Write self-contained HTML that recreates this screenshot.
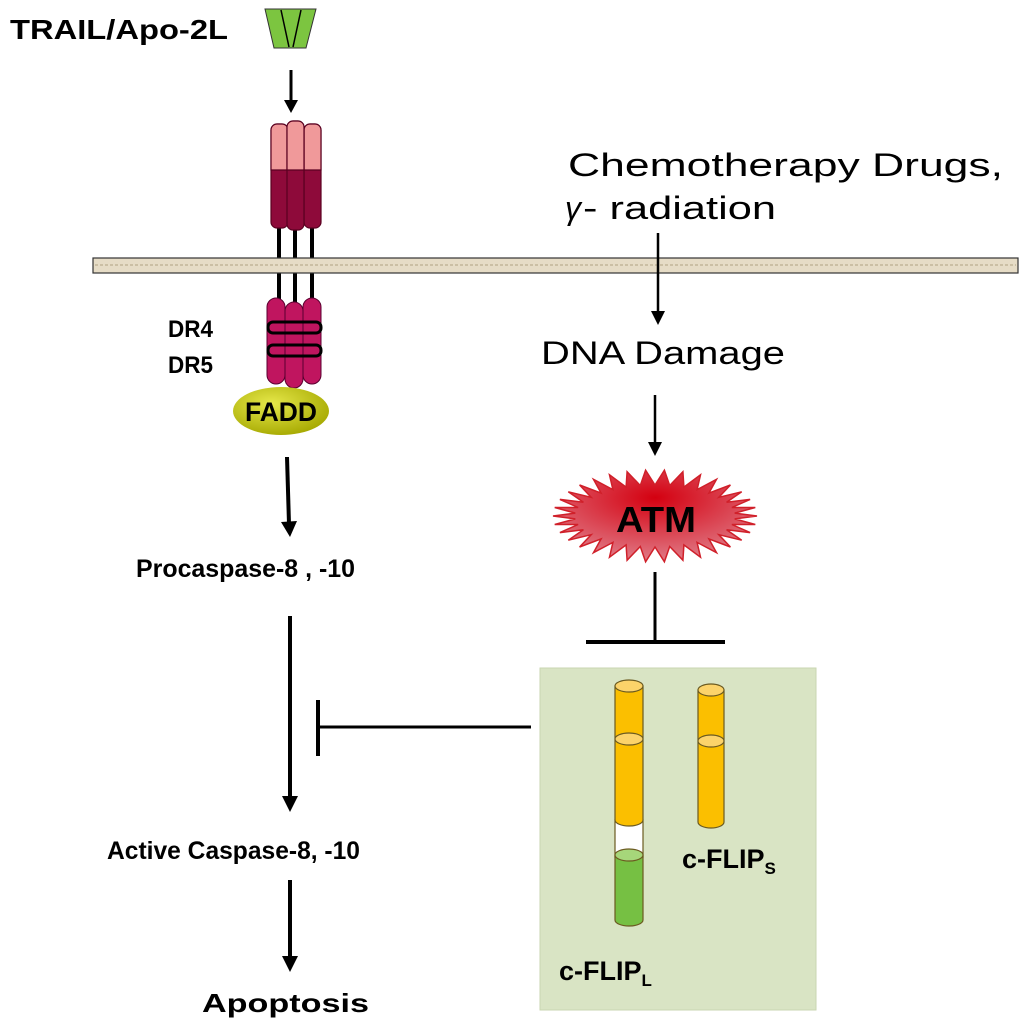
<!DOCTYPE html>
<html><head><meta charset="utf-8"><style>
html,body{margin:0;padding:0;background:#fff;}
svg{display:block;}
text{font-family:"Liberation Sans",Arial,sans-serif;fill:#000;}
</style></head><body>
<svg width="1024" height="1029" viewBox="0 0 1024 1029" xmlns="http://www.w3.org/2000/svg">
<defs>
<radialGradient id="atmg" cx="0.5" cy="0.3" r="0.7"><stop offset="0" stop-color="#d40010"/><stop offset="1" stop-color="#e07c88"/></radialGradient>
<radialGradient id="fadd" cx="0.4" cy="0.35" r="0.7"><stop offset="0" stop-color="#e6e84a"/><stop offset="1" stop-color="#a5a800"/></radialGradient>
</defs>

<!-- TRAIL -->
<text x="10" y="39" font-size="28" font-weight="bold" textLength="218" lengthAdjust="spacingAndGlyphs">TRAIL/Apo-2L</text>
<polygon points="265,9 316,9 306,48 274,48" fill="#7cc540" stroke="#333" stroke-width="1"/>
<line x1="281" y1="10" x2="289" y2="47" stroke="#000" stroke-width="1.5"/>
<line x1="301" y1="10" x2="293" y2="47" stroke="#000" stroke-width="1.5"/>
<line x1="291" y1="70" x2="291" y2="102" stroke="#000" stroke-width="3"/>
<polygon points="284,100 298,100 291,113" fill="#000"/>

<g stroke="#000" stroke-width="4">
<line x1="279" y1="225" x2="279" y2="305"/>
<line x1="295" y1="225" x2="295" y2="305"/>
<line x1="312" y1="225" x2="312" y2="305"/>
</g>
<g stroke="#5a0020" stroke-width="1.2">
<rect x="271" y="124" width="17" height="104" rx="6" fill="#8e0a3a"/>
<rect x="304" y="124" width="17" height="104" rx="6" fill="#8e0a3a"/>
<path d="M271,170 V130 a6,6 0 0 1 6,-6 h5 a6,6 0 0 1 6,6 V170 Z" fill="#f0999a"/>
<path d="M304,170 V130 a6,6 0 0 1 6,-6 h5 a6,6 0 0 1 6,6 V170 Z" fill="#f0999a"/>
<rect x="287" y="121" width="17" height="109" rx="6" fill="#8e0a3a"/>
<path d="M287,170 V127 a6,6 0 0 1 6,-6 h5 a6,6 0 0 1 6,6 V170 Z" fill="#f0999a"/>
</g>

<rect x="93" y="258" width="925" height="15" fill="#e6dcc6" stroke="#333" stroke-width="1.2"/>
<line x1="95" y1="265" x2="1016" y2="265" stroke="#cbbfa4" stroke-width="2" stroke-dasharray="3,2"/>

<g stroke="#5a0030" stroke-width="1">
<rect x="267" y="298" width="18" height="86" rx="9" fill="#c0155f"/>
<rect x="303" y="298" width="18" height="86" rx="9" fill="#c0155f"/>
<rect x="285" y="302" width="18" height="86" rx="9" fill="#c0155f"/>
</g>
<g fill="none" stroke="#000" stroke-width="3">
<rect x="268" y="322" width="53" height="11" rx="5"/>
<rect x="268" y="345" width="53" height="11" rx="5"/>
</g>
<text x="168" y="337" font-size="24" font-weight="bold" textLength="45" lengthAdjust="spacingAndGlyphs">DR4</text>
<text x="168" y="373" font-size="24" font-weight="bold" textLength="45" lengthAdjust="spacingAndGlyphs">DR5</text>

<ellipse cx="281" cy="411" rx="48" ry="24" fill="url(#fadd)"/>
<text x="281" y="421" font-size="27" font-weight="bold" text-anchor="middle" textLength="72" lengthAdjust="spacingAndGlyphs">FADD</text>

<line x1="287" y1="457" x2="289" y2="524" stroke="#000" stroke-width="4"/>
<polygon points="281,522 297,521 290,537" fill="#000"/>
<text x="136" y="577" font-size="25" font-weight="bold" textLength="219" lengthAdjust="spacingAndGlyphs">Procaspase-8 , -10</text>
<line x1="290" y1="616" x2="290" y2="798" stroke="#000" stroke-width="4"/>
<polygon points="282,796 298,796 290,812" fill="#000"/>
<text x="107" y="859" font-size="25" font-weight="bold" textLength="253" lengthAdjust="spacingAndGlyphs">Active Caspase-8, -10</text>
<line x1="290" y1="880" x2="290" y2="958" stroke="#000" stroke-width="4"/>
<polygon points="282,956 298,956 290,972" fill="#000"/>
<text x="202" y="1012" font-size="26" font-weight="bold" textLength="167" lengthAdjust="spacingAndGlyphs">Apoptosis</text>

<line x1="318" y1="727" x2="531" y2="727" stroke="#000" stroke-width="3"/>
<line x1="318" y1="700" x2="318" y2="756" stroke="#000" stroke-width="4"/>

<text x="568" y="176" font-size="32" textLength="435" lengthAdjust="spacingAndGlyphs">Chemotherapy Drugs,</text>
<text x="565" y="219" font-size="32" font-family="Liberation Serif" font-style="italic">γ</text>
<text x="583" y="219" font-size="32" textLength="193" lengthAdjust="spacingAndGlyphs">- radiation</text>
<line x1="658" y1="233" x2="658" y2="312" stroke="#000" stroke-width="2.5"/>
<polygon points="651,311 665,311 658,325" fill="#000"/>
<text x="541" y="364" font-size="32" textLength="244" lengthAdjust="spacingAndGlyphs">DNA Damage</text>
<line x1="655" y1="395" x2="655" y2="443" stroke="#000" stroke-width="2.5"/>
<polygon points="648,442 662,442 655,456" fill="#000"/>

<polygon id="star" fill="url(#atmg)" stroke="#d0202a" stroke-width="1.5" points=""/>
<text x="656" y="532" font-size="36" font-weight="bold" text-anchor="middle" textLength="80" lengthAdjust="spacingAndGlyphs">ATM</text>

<line x1="655" y1="572" x2="655" y2="641" stroke="#000" stroke-width="3"/>
<line x1="586" y1="642" x2="725" y2="642" stroke="#000" stroke-width="4"/>

<rect x="540" y="668" width="276" height="342" fill="#d9e4c4" stroke="#c9d6b2" stroke-width="1"/>
<g stroke="#6b5a20" stroke-width="1.2">
<path d="M615,855 V920 a14,6 0 0 0 28,0 V855 Z" fill="#76c043"/>
<rect x="615" y="820" width="28" height="37" fill="#fff"/>
<path d="M615,686 V820 a14,6 0 0 0 28,0 V686 Z" fill="#fbbf00"/>
<ellipse cx="629" cy="686" rx="14" ry="6" fill="#fcd36a"/>
<ellipse cx="629" cy="739" rx="14" ry="6" fill="#fcd36a"/>
<ellipse cx="629" cy="855" rx="14" ry="6" fill="#a6d67a"/>
<path d="M698,690 V822 a13,6 0 0 0 26,0 V690 Z" fill="#fbbf00"/>
<ellipse cx="711" cy="690" rx="13" ry="6" fill="#fcd36a"/>
<ellipse cx="711" cy="741" rx="13" ry="6" fill="#fcd36a"/>
</g>
<text x="682" y="868" font-size="27" font-weight="bold">c-FLIP<tspan font-size="17" dy="6">S</tspan></text>
<text x="559" y="980" font-size="27" font-weight="bold">c-FLIP<tspan font-size="17" dy="6">L</tspan></text>
</svg>
<script>
(function(){var cx=655,cy=516,n=34,pts=[];for(var i=0;i<2*n;i++){var a=Math.PI*i/n;var o=i%2==0;var rx=o?102:80,ry=o?46:31;pts.push((cx+rx*Math.cos(a)).toFixed(1)+","+(cy+ry*Math.sin(a)).toFixed(1));}document.getElementById("star").setAttribute("points",pts.join(" "));})();
</script>
</body></html>
